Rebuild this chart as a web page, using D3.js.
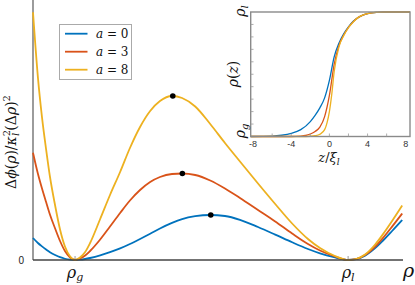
<!DOCTYPE html>
<html><head><meta charset="utf-8">
<script src="https://cdn.jsdelivr.net/npm/d3@7"></script>
<style>body{margin:0;background:#fff;} svg{display:block}</style>
</head><body><svg id="c" width="415" height="285"></svg>
<script>
// ---- main panel data: rho normalised so rho_g = 0, rho_l = 1 ----
const rhoGrid = [-0.154,-0.136,-0.121,-0.106,-0.092,-0.073,-0.055,-0.037,-0.018,0,
  0.018,0.037,0.055,0.092,0.128,0.165,0.201,0.238,0.275,0.311,
  0.355,0.392,0.440,0.495,0.549,0.604,0.670,0.733,0.795,0.853,
  0.897,0.952,1.000,1.029,1.062,1.099,1.128,1.161,1.198];
const phiA0 = [0.22,0.17,0.136,0.105,0.078,0.05,0.028,0.0125,0.003,0,
  0.003,0.01,0.02,0.046,0.078,0.116,0.16,0.21,0.262,0.315,
  0.371,0.409,0.438,0.45,0.44,0.402,0.33,0.254,0.177,0.11,
  0.067,0.027,0,0.008,0.044,0.119,0.195,0.29,0.40];
const phiA3 = [1.073,0.863,0.715,0.579,0.455,0.315,0.19,0.09,0.025,0,
  0.015,0.045,0.09,0.205,0.335,0.47,0.595,0.70,0.78,0.83,
  0.86,0.865,0.85,0.795,0.715,0.62,0.50,0.385,0.265,0.16,
  0.095,0.035,0,0.008,0.049,0.134,0.222,0.334,0.465];
const phiA8 = [2.477,1.827,1.427,1.107,0.835,0.545,0.305,0.135,0.035,0,
  0.025,0.08,0.17,0.41,0.65,0.88,1.12,1.33,1.49,1.59,
  1.64,1.62,1.535,1.36,1.17,0.985,0.765,0.56,0.365,0.21,
  0.12,0.04,0,0.01,0.055,0.155,0.259,0.39,0.545];
const peakRho = [0.497, 0.393, 0.358];
const peakPhi = [0.45, 0.865, 1.64];
const seriesA = ["0","3","8"];
const colors = ["#0072BD","#D95319","#EDB120"];

// ---- inset data: density profiles rho(z) normalised 0 (rho_g) .. 1 (rho_l) ----
const zA0 = [-8.25,-6,-5,-4,-3,-2,-1.5,-1,-0.5,0,0.5,1,1.5,2,2.5,3,3.5,4,5,6,8.45];
const profA0 = [0,0.003,0.01,0.025,0.055,0.12,0.17,0.23,0.31,0.45,0.64,0.75,0.825,0.88,0.925,0.955,0.975,0.987,0.997,1,1];
const zA3 = [-8.25,-4,-3,-2.5,-2,-1.5,-1,-0.5,0,0.5,1,1.5,2,2.5,3,3.5,4,5,6,8.45];
const profA3 = [0,0,0.003,0.008,0.02,0.04,0.075,0.16,0.33,0.58,0.73,0.815,0.877,0.922,0.955,0.975,0.987,0.997,1,1];
const zA8 = [-8.25,-3,-2,-1.5,-1,-0.5,-0.25,0,0.25,0.5,1,1.5,2,2.5,3,3.5,4,5,6,8.45];
const profA8 = [0,0,0.002,0.006,0.018,0.055,0.11,0.2,0.34,0.52,0.72,0.81,0.875,0.92,0.955,0.975,0.987,0.997,1,1];
const insetXTicks = [-8,-4,0,4,8];

const svg = d3.select("#c");
const serif = "'DejaVu Serif', serif";
const sans = "'Liberation Sans', Arial, sans-serif";

// main scales
const x = d3.scaleLinear().domain([-0.154, 1.201]).range([33, 403]);
const y = d3.scaleLinear().domain([0, 2.6]).range([260, 0]);

const mainSeries = [phiA0, phiA3, phiA8];
const line = d3.line().x(d => x(d[0])).y(d => y(d[1])).curve(d3.curveMonotoneX);

// axes
svg.append("line").attr("x1", x(-0.154)).attr("x2", x(-0.154)).attr("y1", 0).attr("y2", 260)
  .attr("stroke", "#666").attr("stroke-width", 1.3);
[0, 1].forEach(v => svg.append("line").attr("x1", x(v)).attr("x2", x(v)).attr("y1", 260).attr("y2", 256)
  .attr("stroke", "#999").attr("stroke-width", 1));

mainSeries.forEach((s, i) => {
  svg.append("path").datum(rhoGrid.map((r, k) => [r, s[k]]))
    .attr("d", line).attr("fill", "none").attr("stroke", colors[i]).attr("stroke-width", 1.8);
});
svg.append("line").attr("x1", 33).attr("x2", x(1.201)).attr("y1", 260).attr("y2", 260)
  .attr("stroke", "#444").attr("stroke-width", 1.5);
peakRho.forEach((r, i) => svg.append("circle").attr("cx", x(r)).attr("cy", y(peakPhi[i])).attr("r", 2.8).attr("fill", "#000"));

// tick labels
svg.append("text").attr("x", 24).attr("y", 264).attr("text-anchor", "end")
  .style("font-family", sans).style("font-size", "10px").attr("fill", "#222").text("0");
function rhoSub(sel, sub, size, dy) {
  sel.append("tspan").style("font-style", "italic").text("ρ");
  sel.append("tspan").attr("dy", dy).style("font-style", "italic").style("font-size", size + "px").text(sub);
}
const lg = svg.append("text").attr("x", x(0)).attr("y", 278).attr("text-anchor", "middle")
  .style("font-family", serif).style("font-size", "16px").attr("fill", "#111");
rhoSub(lg, "g", 11, 2.5);
const ll = svg.append("text").attr("x", x(1)).attr("y", 278).attr("text-anchor", "middle")
  .style("font-family", serif).style("font-size", "16px").attr("fill", "#111");
rhoSub(ll, "l", 11, 2.5);
svg.append("text").attr("x", 403).attr("y", 277).style("font-family", serif).style("font-size", "19px")
  .style("font-style", "italic").attr("fill", "#111").text("ρ");

// y label
const yl = svg.append("text").attr("transform", "translate(16,142) rotate(-90)").attr("text-anchor", "middle")
  .style("font-family", serif).style("font-size", "14px").attr("fill", "#111");
yl.append("tspan").text("Δ");
yl.append("tspan").style("font-style", "italic").text("ϕ");
yl.append("tspan").text("(");
yl.append("tspan").style("font-style", "italic").text("ρ");
yl.append("tspan").text(")/");
yl.append("tspan").style("font-style", "italic").text("κ");
yl.append("tspan").attr("dy", -6).style("font-size", "10px").text("2");
yl.append("tspan").attr("dx", -6).attr("dy", 9).style("font-size", "10px").style("font-style", "italic").text("l");
yl.append("tspan").attr("dx", 2).attr("dy", -3).text("(Δ");
yl.append("tspan").style("font-style", "italic").text("ρ");
yl.append("tspan").text(")");
yl.append("tspan").attr("dy", -6).style("font-size", "10px").text("2");

// legend
svg.append("rect").attr("x", 59.5).attr("y", 24.5).attr("width", 72).attr("height", 55)
  .attr("fill", "#fff").attr("stroke", "#aaa").attr("stroke-width", 1);
seriesA.forEach((a, i) => {
  const yy = 33.7 + i * 18;
  svg.append("line").attr("x1", 65).attr("x2", 87.5).attr("y1", yy).attr("y2", yy)
    .attr("stroke", colors[i]).attr("stroke-width", 1.8);
  const t = svg.append("text").attr("x", 96).attr("y", yy + 4.3).style("font-family", serif)
    .style("font-size", "12px").attr("fill", "#111");
  t.append("tspan").style("font-style", "italic").text("a");
  t.append("tspan").text(" = " + a);
});

// ---- inset ----
const xi = d3.scaleLinear().domain([-8.25, 8.45]).range([250.7, 410]);
const yi = d3.scaleLinear().domain([0, 1]).range([136.5, 12]);
svg.append("rect").attr("x", 250.7).attr("y", 12).attr("width", 159.3).attr("height", 124.5)
  .attr("fill", "#fff");
const iline = d3.line().x(d => xi(d[0])).y(d => yi(d[1])).curve(d3.curveMonotoneX);
[[zA0, profA0], [zA3, profA3], [zA8, profA8]].forEach((p, i) => {
  svg.append("path").datum(p[0].map((z, k) => [z, p[1][k]]))
    .attr("d", iline).attr("fill", "none").attr("stroke", colors[i]).attr("stroke-width", 1.3);
});
svg.append("rect").attr("x", 250.7).attr("y", 12).attr("width", 159.3).attr("height", 124.5)
  .attr("fill", "none").attr("stroke", "#8a8a8a").attr("stroke-width", 1.4);
d3.range(0.1, 0.95, 0.1).forEach(v => svg.append("line").attr("x1", 250.7).attr("x2", 253.5)
  .attr("y1", yi(v)).attr("y2", yi(v)).attr("stroke", "#999").attr("stroke-width", 0.8));
d3.range(-6, 7, 2).forEach(v => svg.append("line").attr("x1", xi(v)).attr("x2", xi(v))
  .attr("y1", 136.5).attr("y2", 133.5).attr("stroke", "#999").attr("stroke-width", 0.8));
insetXTicks.forEach(v => svg.append("text").attr("x", xi(v)).attr("y", 146.5).attr("text-anchor", "middle")
  .style("font-family", sans).style("font-size", "9px").attr("fill", "#333").text(v));
const zl = svg.append("text").attr("x", 329).attr("y", 162).attr("text-anchor", "middle")
  .style("font-family", serif).style("font-size", "13px").attr("fill", "#111");
zl.append("tspan").style("font-style", "italic").text("z");
zl.append("tspan").text("/");
zl.append("tspan").style("font-style", "italic").text("ξ");
zl.append("tspan").attr("dy", 3).style("font-style", "italic").style("font-size", "9px").text("l");
const rz = svg.append("text").attr("transform", "translate(238,74) rotate(-90)").attr("text-anchor", "middle")
  .style("font-family", serif).style("font-size", "14px").attr("fill", "#111");
rz.append("tspan").style("font-style", "italic").text("ρ");
rz.append("tspan").text("(");
rz.append("tspan").style("font-style", "italic").text("z");
rz.append("tspan").text(")");
const tl = svg.append("text").attr("transform", "translate(245,11) rotate(-90)").attr("text-anchor", "middle")
  .style("font-family", serif).style("font-size", "14px").attr("fill", "#111");
rhoSub(tl, "l", 10, 2.5);
const tg = svg.append("text").attr("transform", "translate(245,131) rotate(-90)").attr("text-anchor", "middle")
  .style("font-family", serif).style("font-size", "14px").attr("fill", "#111");
rhoSub(tg, "g", 10, 2.5);
</script></body></html>
